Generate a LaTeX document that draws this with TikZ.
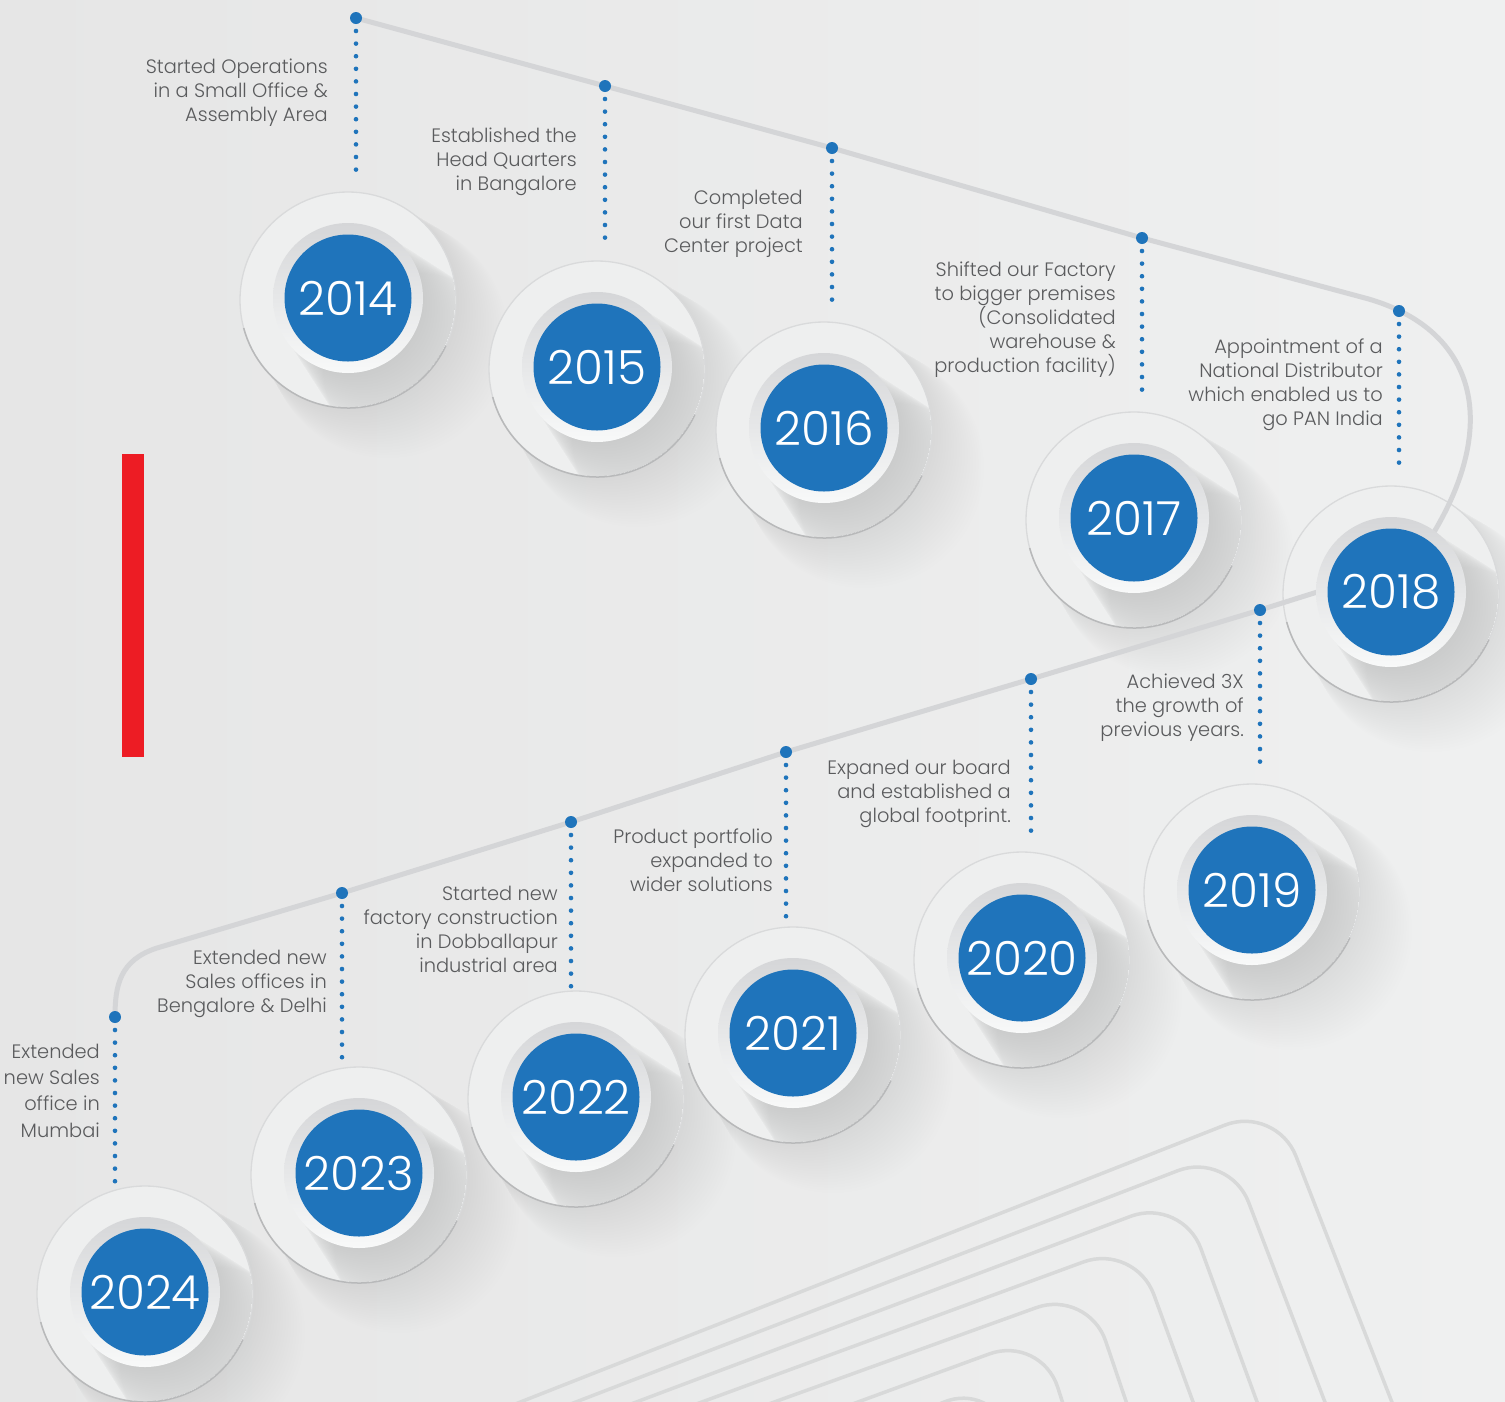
\documentclass[tikz,border=0pt]{standalone}
\usepackage{fontspec}
\setmainfont{Poppins Light}
\usetikzlibrary{calc}
\definecolor{tlblue}{HTML}{1F74BB}
\definecolor{linegray}{HTML}{D4D5D7}
\definecolor{decogray}{HTML}{D8D9D9}
\definecolor{txtgray}{HTML}{5A5B5D}
\definecolor{bgleft}{HTML}{E6E6E6}
\definecolor{bgright}{HTML}{EFF0F0}
\definecolor{diskfill}{HTML}{EEEFEF}
\definecolor{edgelight}{HTML}{D9DADB}
\definecolor{edgedark}{HTML}{B8B9BA}
\definecolor{ringtop}{HTML}{D5D6D8}
\definecolor{ringbot}{HTML}{F8F9F9}
\definecolor{redbar}{HTML}{ED1C24}
\begin{document}
\begin{tikzpicture}[x=1pt,y=-1pt,
  timeline/.style={draw=linegray, line width=5pt, line cap=round},
  deco/.style={draw=decogray, line width=3.5pt, rounded corners=55pt},
  bigdot/.style={circle, fill=tlblue, inner sep=0pt, minimum size=12pt},
  dotline/.style={draw=tlblue, line width=4.6pt, line cap=round, dash pattern=on 0pt off 12.6pt},
  desc/.style={anchor=east, align=right, inner sep=0pt, text=txtgray, font=\fontsize{19.4}{24}\selectfont},
  yearnode/.style={circle, fill=tlblue, inner sep=0pt, minimum size=127pt, text=white, font=\fontsize{47}{47}\selectfont},
  whitering/.style={circle, inner sep=0pt, minimum size=150pt, top color=ringtop, bottom color=ringbot, draw=none},
  outerdisk/.style={fill=diskfill, draw=edgelight, line width=1.3pt},
]
\useasboundingbox (0,0) rectangle (1505,1401);
\clip (0,0) rectangle (1505,1401);
\shade[left color=bgleft, right color=bgright] (0,0) rectangle (1505,1401);

% decorative nested lines
\foreach \ax/\ay/\lx/\rx in {1276/1105/500/1395, 1229/1151/555/1328, 1182/1197/615/1260, 1135/1243/680/1196, 1088/1289/752/1129, 1041/1335/836/1065, 994/1381/925/1002}{
  \draw[deco] (\lx,1410) -- (\ax,\ay) -- (\rx,1410);
}

% red bar
\fill[redbar] (122,454) rectangle (144,757);

% coordinates
\foreach \yr/\cx/\cy/\px/\py in {2014/348/298/356/18, 2015/597/367/605/86, 2016/824/428/832/148, 2017/1134/518/1142/238, 2018/1391/592/1399/311, 2019/1252/890/1260/610, 2020/1022/958/1031/679, 2021/793/1033/786/752, 2022/576/1097/571/822, 2023/359/1173/342/893, 2024/145/1292/115/1017}{
  \coordinate (c\yr) at (\cx,\cy);
  \coordinate (p\yr) at (\px,\py);
}

% outer shadows (soft)
\foreach \yr in {2014,2015,2016,2017,2018,2019,2020,2021,2022,2023,2024}{
  \foreach \k in {2,4,...,40}{
    \fill[black, opacity=0.005] ($(c\yr)+(\k,\k)$) circle ({106+0.35*\k});
  }
}
% outer disks
\foreach \yr in {2014,2015,2016,2017,2018,2019,2020,2021,2022,2023,2024}{
  \draw[outerdisk] ($(c\yr)+(0,2)$) circle (108);
  \draw[edgedark, line width=1.5pt] ($(c\yr)+(0,2)$) ++(25:108) arc (25:165:108);
}
% inner long shadows (soft)
\foreach \yr in {2014,2015,2016,2017,2018,2019,2020,2021,2022,2023,2024}{
  \begin{scope}
    \clip ($(c\yr)+(0,2)$) circle (107);
    \foreach \k in {2,4,...,70}{
      \fill[black, opacity=0.0055] ($(c\yr)+(\k,\k)$) circle ({74+0.3*\k});
    }
  \end{scope}
}

% timeline
\draw[timeline] (p2014) -- (p2015) -- (p2016) -- (p2017) -- (1365,298)
  .. controls (1490,332) and (1510,450) .. (c2018);
\draw[timeline] ($(c2018)+(-10,-20)$) -- (p2019) -- (p2020) -- (p2021) -- (p2022) -- (p2023) -- (157,948)
  .. controls (120,960) and (115,985) .. (p2024);

% rings and year discs
\foreach \yr in {2014,2015,2016,2017,2018,2019,2020,2021,2022,2023,2024}{
  \node[whitering] (r\yr) at (c\yr) {};
  \node[yearnode] (y\yr) at (c\yr) {\yr};
}

% dotted lines and dots
\foreach \yr/\len in {2014/141, 2015/143, 2016/141, 2017/142, 2018/142, 2019/142, 2020/142, 2021/155, 2022/155, 2023/154, 2024/155}{
  \draw[dotline] ($(p\yr)+(0,13)$) -- ++(0,\len);
  \node[bigdot] (d\yr) at (p\yr) {};
}

% descriptions
\node[desc] (t2014) at (328,93) {Started Operations\\in a Small Office \&\\Assembly Area};
\node[desc] (t2015) at (577,162) {Established the\\Head Quarters\\in Bangalore};
\node[desc] (t2016) at (803,224) {Completed\\our first Data\\Center project};
\node[desc] (t2017) at (1116,320) {Shifted our Factory\\to bigger premises\\(Consolidated\\warehouse \&\\production facility)};
\node[desc] (t2018) at (1383,385) {Appointment of a\\National Distributor\\which enabled us to\\go PAN India};
\node[desc] (t2019) at (1244,708) {Achieved 3X\\the growth of\\previous years.};
\node[desc] (t2020) at (1011,794) {Expaned our board\\and established a\\global footprint.};
\node[desc] (t2021) at (773,860) {Product portfolio\\expanded to\\wider solutions};
\node[desc] (t2022) at (558,929) {Started new\\factory construction\\in Dobballapur\\industrial area};
\node[desc] (t2023) at (327,984) {Extended new\\Sales offices in\\Bengalore \& Delhi};
\node[desc, font=\fontsize{19.4}{26.3}\selectfont] (t2024) at (100,1090.5) {Extended\\new Sales\\office in\\Mumbai};
\end{tikzpicture}
\end{document}
